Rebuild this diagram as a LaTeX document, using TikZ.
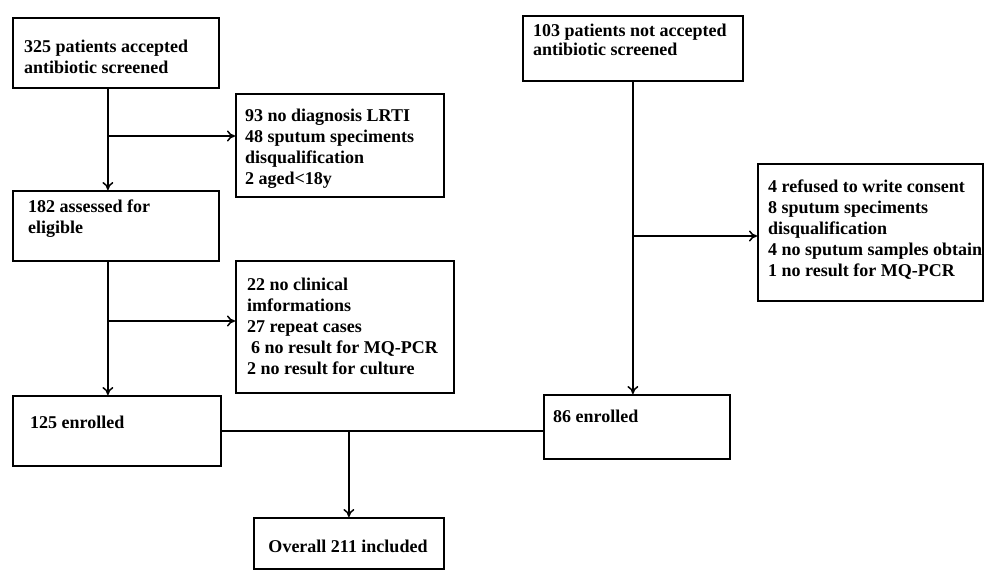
\documentclass[tikz,border=0pt]{standalone}
\usepackage{fontspec}
\setmainfont{Liberation Serif}
\usetikzlibrary{arrows.meta}

\begin{document}
\begin{tikzpicture}[x=1pt,y=-1pt]
\tikzstyle{flowbox} = [rectangle, draw=black, line width=1.8pt, anchor=north west, inner sep=0pt]
\tikzstyle{txt} = [anchor=north west, inner sep=0pt, align=left, font=\bfseries\fontsize{18}{21}\selectfont]
\tikzstyle{arrow} = [line width=1.5pt,->,>={To[length=8pt,width=11pt]}]
\tikzstyle{noarrow} = [line width=1.5pt]

\useasboundingbox (0,0) rectangle (985,570);

%boxes
\node (accepted) [flowbox, minimum width=206pt, minimum height=70pt] at (12,17) {};
\node (excl1) [flowbox, minimum width=208pt, minimum height=103pt] at (235,93) {};
\node (assessed) [flowbox, minimum width=206pt, minimum height=70pt] at (12,190) {};
\node (excl2) [flowbox, minimum width=218pt, minimum height=132pt] at (235,260) {};
\node (enrolA) [flowbox, minimum width=208pt, minimum height=70pt] at (12,395) {};
\node (overall) [flowbox, minimum width=190pt, minimum height=51pt] at (253,517) {};
\node (notacc) [flowbox, minimum width=220pt, minimum height=65pt] at (522,15) {};
\node (excl3) [flowbox, minimum width=225pt, minimum height=137pt] at (757,163) {};
\node (enrolB) [flowbox, minimum width=186pt, minimum height=64pt] at (543,394) {};

%texts
\node (acceptedt) [txt] at (24,39.5) {325 patients accepted\\antibiotic screened};
\node (excl1t) [txt] at (245,108.5) {93 no diagnosis LRTI\\48 sputum speciments\\disqualification\\2 aged<18y};
\node (assessedt) [txt] at (28,199.5) {182 assessed for\\eligible};
\node (excl2t) [txt] at (247,277.5) {22 no clinical\\imformations\\27 repeat cases\\\hspace*{4pt}6 no result for MQ-PCR\\2 no result for culture};
\node (enrolAt) [txt, anchor=base west] at (30,428) {125 enrolled};
\node (overallt) [txt, anchor=base] at (348,552) {Overall 211 included};
\node (notacct) [txt] at (533,23.5) {103 patients not accepted\\[-2pt]antibiotic screened};
\node (excl3t) [txt] at (768,179.5) {4 refused to write consent\\8 sputum speciments\\disqualification\\4 no sputum samples obtain\\1 no result for MQ-PCR};
\node (enrolBt) [txt, anchor=base west] at (553,422) {86 enrolled};

%junctions
\coordinate (j1) at (107,136);
\coordinate (j2) at (107,321);
\coordinate (j3) at (632,236);

%arrows
\draw [arrow] ([xshift=-8pt]accepted.south) -- ([xshift=-8pt]assessed.north);
\draw [arrow] (j1) -- (j1 -| excl1.west);
\draw [arrow] ([xshift=-8pt]assessed.south) -- ([xshift=-8pt]assessed.south |- enrolA.north);
\draw [arrow] (j2) -- (j2 -| excl2.west);
\draw [arrow] (notacc.south) -- (notacc.south |- enrolB.north);
\draw [arrow] (j3) -- (j3 -| excl3.west);
\draw [noarrow] (enrolA.east) -- (enrolA.east -| enrolB.west);
\draw [arrow] (overall.north |- enrolA.east) -- (overall.north);
\end{tikzpicture}
\end{document}
